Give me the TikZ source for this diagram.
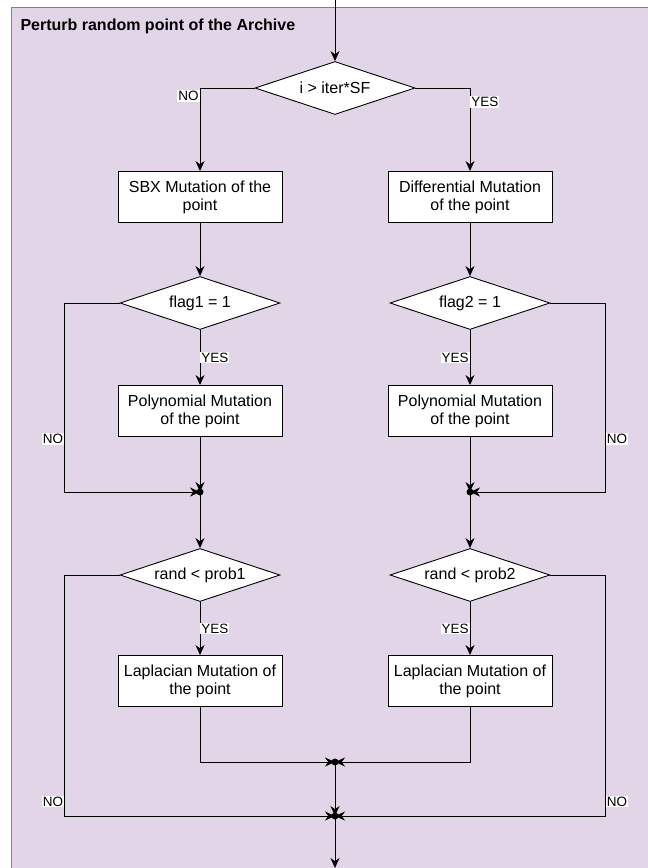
\documentclass[tikz,border=0pt]{standalone}
\usepackage{fontspec}
\setmainfont{Liberation Sans}
\usetikzlibrary{arrows.meta,shapes.geometric}
\definecolor{panelfill}{HTML}{E1D5E7}
\definecolor{panelline}{HTML}{9673A6}

\begin{document}
\begin{tikzpicture}[x=1pt,y=-1pt,>={Stealth[length=10pt,width=9pt]},
  font=\fontsize{16}{18}\selectfont,
  box/.style={draw,fill=white,line width=0.9pt,minimum width=164pt,minimum height=51pt,align=center,inner sep=2pt},
  cond/.style={diamond,draw,fill=white,line width=0.9pt,shape aspect=3,minimum width=160pt,minimum height=53pt,inner sep=0pt},
  lbl/.style={fill=white,inner sep=1pt,font=\fontsize{13.5}{15}\selectfont},
  flow/.style={line width=0.9pt}]
\useasboundingbox (0,0) rectangle (648,868);
\clip (0,0) rectangle (648,868);
\draw[fill=panelfill,draw=panelline,line width=1pt] (11,7) rectangle (670,890);
\node[anchor=base west,font=\bfseries\fontsize{16}{18}\selectfont] (title) at (17,30) {Perturb random point of the Archive};
% decisions
\node[cond] (d0) at (335,88) {i > iter*SF};
\node[cond] (f1) at (200,303) {flag1 = 1};
\node[cond] (f2) at (470,303) {flag2 = 1};
\node[cond] (r1) at (200,575) {rand < prob1};
\node[cond] (r2) at (470,575) {rand < prob2};
% mutations
\node[box] (sbx) at (200,197) {SBX Mutation of the\\point};
\node[box] (diff) at (470,197) {Differential Mutation\\of the point};
\node[box] (poly1) at (200,411) {Polynomial Mutation\\of the point};
\node[box] (poly2) at (470,411) {Polynomial Mutation\\of the point};
\node[box] (lap1) at (200,681) {Laplacian Mutation of\\the point};
\node[box] (lap2) at (470,681) {Laplacian Mutation of\\the point};
% junctions
\coordinate (in) at (335,0);
\coordinate (j1) at (200,492);
\coordinate (j2) at (470,492);
\coordinate (j3) at (335,762);
\coordinate (j4) at (335,816);
\coordinate (out) at (335,868);
% connectors
\draw[flow,->] (in) -- (d0.north);
\draw[flow,->] (d0.west) -| node[lbl,pos=0.5,anchor=north east,yshift=-2pt]{NO} (sbx.north);
\draw[flow,->] (d0.east) -| node[lbl,pos=0.5,anchor=north west,yshift=-8pt]{YES} (diff.north);
\draw[flow,->] (sbx.south) -- (f1.north);
\draw[flow,->] (diff.south) -- (f2.north);
\draw[flow,->] (f1.south) -- node[lbl,anchor=west]{YES} (poly1.north);
\draw[flow,->] (f2.south) -- node[lbl,anchor=east]{YES} (poly2.north);
\draw[flow,->] (poly1.south) -- (j1);
\draw[flow,->] (poly2.south) -- (j2);
\draw[flow,->] (f1.west) -- ++(-55,0) |- node[lbl,pos=0.36,anchor=east]{NO} (j1);
\draw[flow,->] (f2.east) -- ++(55,0) |- node[lbl,pos=0.36,anchor=west]{NO} (j2);
\draw[flow,->] (j1) -- (r1.north);
\draw[flow,->] (j2) -- (r2.north);
\draw[flow,->] (r1.south) -- node[lbl,anchor=west]{YES} (lap1.north);
\draw[flow,->] (r2.south) -- node[lbl,anchor=east]{YES} (lap2.north);
\draw[flow,->] (lap1.south) |- (j3);
\draw[flow,->] (lap2.south) |- (j3);
\draw[flow,->] (j3) -- (j4);
\draw[flow,->] (r1.west) -- ++(-55,0) |- node[lbl,pos=0.47,anchor=east]{NO} (j4);
\draw[flow,->] (r2.east) -- ++(55,0) |- node[lbl,pos=0.47,anchor=west]{NO} (j4);
\draw[flow,->] (j4) -- (out);
\foreach \j in {j1,j2,j3,j4}{\fill (\j) circle (3.5pt);}
\end{tikzpicture}
\end{document}
